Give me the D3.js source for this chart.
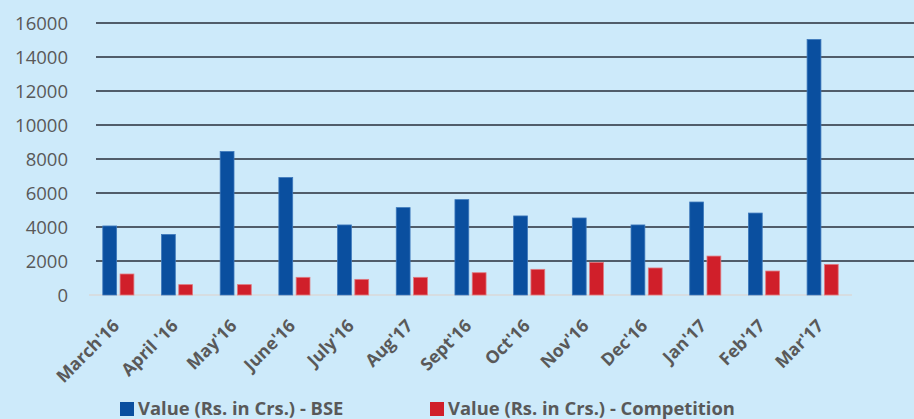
<!DOCTYPE html>
<html>
<head>
<meta charset="utf-8">
<script src="https://cdn.jsdelivr.net/npm/d3@7/dist/d3.min.js"></script>
<style>
  html, body { margin: 0; padding: 0; background: #cdeafa; }
  svg { display: block; }
</style>
</head>
<body>
<svg id="chart" width="914" height="419"></svg>
<script>
// Monthly traded value, Rs. in crores
const months = ["March'16", "April '16", "May'16", "June'16", "July'16", "Aug'17",
                "Sept'16", "Oct'16", "Nov'16", "Dec'16", "Jan'17", "Feb'17", "Mar'17"];
const bseValues = [4060, 3560, 8440, 6910, 4120, 5140, 5610, 4650, 4530, 4120, 5470, 4820, 15030];
const competitionValues = [1235, 610, 610, 1040, 920, 1040, 1310, 1510, 1920, 1590, 2290, 1410, 1800];
const yTicks = [0, 2000, 4000, 6000, 8000, 10000, 12000, 14000, 16000];
const seriesNames = ["Value (Rs. in Crs.) - BSE", "Value (Rs. in Crs.) - Competition"];
const seriesColors = ["#0a4f9f", "#d01f2a"];

const svg = d3.select("#chart");
const W = 914, H = 419;
const plot = { left: 89, right: 852, top: 23, bottom: 295 };

svg.append("rect").attr("width", W).attr("height", H).attr("fill", "#cdeafa");

const y = d3.scaleLinear().domain([0, 16000]).range([plot.bottom, plot.top]);
const x0 = d3.scaleBand().domain(months).range([plot.left, plot.right]).paddingInner(0.47).paddingOuter(0.235);
const x1 = d3.scaleBand().domain([0, 1]).range([0, x0.bandwidth()]).paddingInner(0.2);

// Horizontal gridlines (above zero)
svg.append("g")
  .selectAll("line")
  .data(yTicks.filter(d => d > 0))
  .join("line")
  .attr("x1", 96).attr("x2", W)
  .attr("y1", d => y(d)).attr("y2", d => y(d))
  .attr("stroke", "#515d6a")
  .attr("stroke-width", 2);

// Y axis labels
const yAxis = d3.axisLeft(y).tickValues(yTicks).tickSize(0).tickPadding(0).tickFormat(d3.format("d"));
const gy = svg.append("g").attr("transform", "translate(68,0)").call(yAxis);
gy.select(".domain").remove();
gy.selectAll("text")
  .attr("font-family", "'Open Sans', sans-serif")
  .attr("font-size", 18.5)
  .attr("fill", "#595959")
  .attr("dy", "0.36em");

// Baseline
svg.append("line")
  .attr("x1", plot.left).attr("x2", plot.right)
  .attr("y1", y(0)).attr("y2", y(0))
  .attr("stroke", "#d9d9d9").attr("stroke-width", 1.5);

// Bars
const rows = months.map((m, i) => ({ month: m, vals: [bseValues[i], competitionValues[i]] }));
const groups = svg.append("g").selectAll("g")
  .data(rows)
  .join("g")
  .attr("transform", d => `translate(${x0(d.month)},0)`);

groups.selectAll("rect")
  .data(d => d.vals.map((v, k) => ({ k, v })))
  .join("rect")
  .attr("x", d => x1(d.k))
  .attr("width", x1.bandwidth())
  .attr("y", d => y(d.v))
  .attr("height", d => y(0) - y(d.v))
  .attr("fill", d => seriesColors[d.k])
  .attr("stroke", d => d.k === 0 ? "#3d78bb" : "#e07a80")
  .attr("stroke-width", 0.8);

// Rotated month labels
const xAxis = d3.axisBottom(x0).tickSize(0).tickPadding(0);
const gx = svg.append("g").attr("transform", `translate(0,${plot.bottom})`).call(xAxis);
gx.select(".domain").remove();
gx.selectAll("text")
  .attr("font-family", "'Open Sans', sans-serif")
  .attr("font-weight", "bold")
  .attr("font-size", 17.5)
  .attr("fill", "#595959")
  .attr("text-anchor", "end")
  .attr("dy", null)
  .attr("y", 0)
  .attr("transform", "translate(2,32) rotate(-45)");

// Legend
const legend = svg.append("g");
const legendX = [120, 430];
seriesNames.forEach((name, i) => {
  legend.append("rect")
    .attr("x", legendX[i]).attr("y", 402)
    .attr("width", 14).attr("height", 14)
    .attr("fill", seriesColors[i]);
  legend.append("text")
    .attr("x", legendX[i] + 18).attr("y", 414.5)
    .attr("font-family", "'Open Sans', sans-serif")
    .attr("font-weight", "bold")
    .attr("font-size", 18.4)
    .attr("fill", "#595959")
    .text(name);
});
</script>
</body>
</html>
